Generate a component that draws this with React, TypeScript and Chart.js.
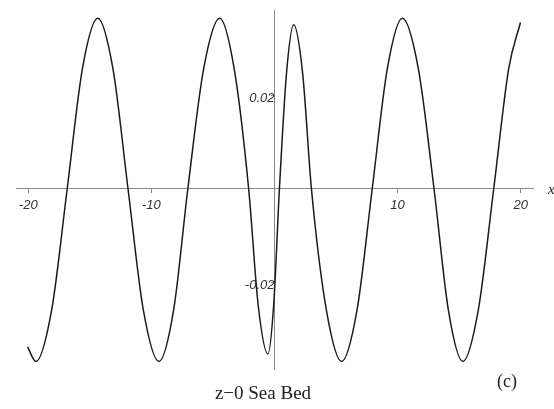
import React, { useEffect, useRef } from "react";
import { Chart, registerables } from "chart.js";

Chart.register(...registerables);

// Points (x, y)
const xValues = [
  -20.06, -19.38, -18.11, -16.84, -15.6, -14.36, -13.13, -11.9, -10.65, -9.39,
  -8.2, -7.04, -5.75, -4.45, -3.28, -2.1, -1.32, -0.54, -0.07, 0.4,
  0.98, 1.56, 2.28, 3.0, 4.22, 5.45, 6.7, 7.94, 9.17, 10.39,
  11.68, 12.96, 14.13, 15.3, 16.55, 17.81, 19.03, 19.98,
];
const yValues = [
  -0.0338, -0.0369, -0.026, 0, 0.0257, 0.0364, 0.0257, 0, -0.026, -0.0369,
  -0.026, 0, 0.0257, 0.0364, 0.0257, 0, -0.025, -0.0353, -0.025, 0,
  0.0248, 0.035, 0.0248, 0, -0.026, -0.0369, -0.026, 0, 0.0257, 0.0364,
  0.0257, 0, -0.026, -0.0369, -0.026, 0, 0.0257, 0.0355,
];
const xTicks = [-20, -10, 10, 20];
const yTicks = [-0.02, 0.02];
const caption = "z\u22120 Sea Bed";
const panelLabel = "(c)";
const xAxisName = "x";

const textPlugin = {
  id: "captionText",
  afterDraw(chart: any) {
    const ctx = chart.ctx;
    const xs = chart.scales.x;
    const ys = chart.scales.y;
    const yZero = ys.getPixelForValue(0);
    ctx.save();
    ctx.fillStyle = "#222";
    ctx.font = "19px 'Liberation Serif', serif";
    ctx.textAlign = "center";
    ctx.textBaseline = "alphabetic";
    ctx.fillText(caption, 263, 399);
    ctx.font = "18px 'Liberation Serif', serif";
    ctx.fillText(panelLabel, 507, 387);
    ctx.font = "italic 15px 'Liberation Serif', serif";
    ctx.textAlign = "left";
    ctx.fillText(xAxisName, xs.right + 15, yZero + 5);
    ctx.restore();
  },
};

export default function App() {
  const ref = useRef<HTMLCanvasElement | null>(null);

  useEffect(() => {
    if (!ref.current) return;
    const points = xValues.map((x, i) => ({ x, y: yValues[i] }));
    const chart = new Chart(ref.current, {
      type: "line",
      data: {
        datasets: [
          {
            data: points,
            borderColor: "#1a1a1a",
            borderWidth: 1.5,
            pointRadius: 0,
            fill: false,
            cubicInterpolationMode: "monotone",
          },
        ],
      },
      options: {
        responsive: false,
        animation: false,
        layout: { padding: { left: 16, right: 21, top: 10, bottom: 40 } },
        plugins: {
          legend: { display: false },
          tooltip: { enabled: false },
          title: { display: false },
        },
        scales: {
          x: {
            type: "linear",
            min: -21,
            max: 21,
            position: { y: 0 } as any,
            afterBuildTicks: (axis: any) => {
              axis.ticks = xTicks.map((v) => ({ value: v }));
            },
            grid: {
              display: true,
              drawOnChartArea: false,
              drawTicks: true,
              tickLength: 4,
              color: "#8a8a8a",
            },
            border: { display: true, color: "#8a8a8a", width: 1 },
            ticks: {
              autoSkip: false,
              maxRotation: 0,
              padding: 5,
              color: "#333",
              font: { family: "'Liberation Sans', sans-serif", style: "italic", size: 13 },
              callback: (v: any) => String(v),
            },
          },
          y: {
            type: "linear",
            min: -0.0385,
            max: 0.038,
            position: { x: 0 } as any,
            afterBuildTicks: (axis: any) => {
              axis.ticks = yTicks.map((v) => ({ value: v }));
            },
            grid: {
              display: true,
              drawOnChartArea: false,
              drawTicks: true,
              tickLength: 3,
              color: "#8a8a8a",
            },
            border: { display: true, color: "#8a8a8a", width: 1 },
            ticks: {
              padding: 3,
              labelOffset: 3,
              color: "#333",
              font: { family: "'Liberation Sans', sans-serif", style: "italic", size: 13 },
              callback: (v: any) => String(v),
            },
          },
        },
      },
      plugins: [textPlugin],
    });
    return () => chart.destroy();
  }, []);

  return (
    <div style={{ position: "fixed", left: 0, top: 0, width: 554, height: 409, background: "#fff" }}>
      <canvas ref={ref} width={554} height={409} />
    </div>
  );
}
